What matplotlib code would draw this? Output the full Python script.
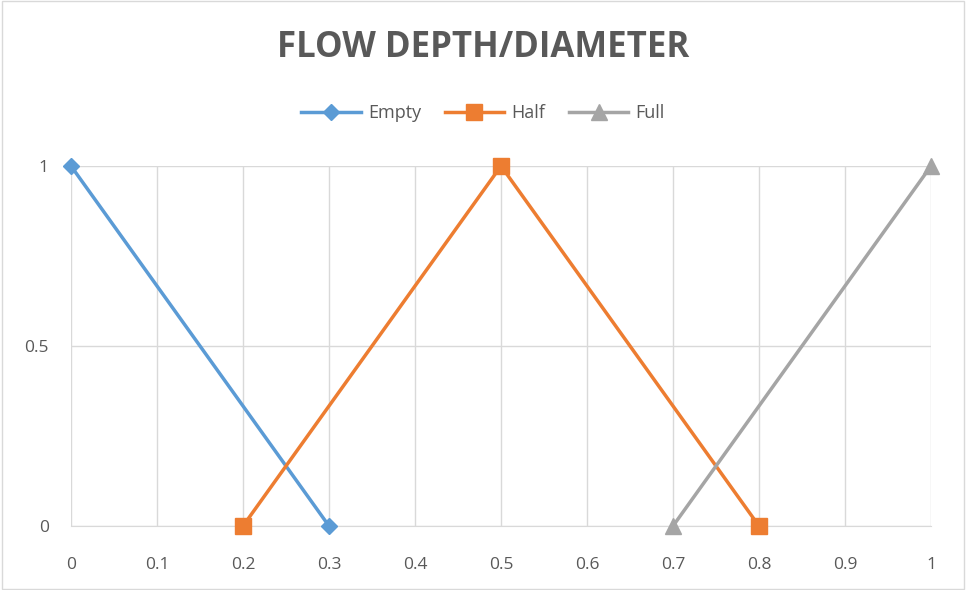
import matplotlib
matplotlib.use("Agg")
import matplotlib.pyplot as plt
from matplotlib.patches import Rectangle

empty_x = [0, 0.3]
empty_y = [1, 0]
half_x = [0.2, 0.5, 0.8]
half_y = [0, 1, 0]
full_x = [0.7, 1]
full_y = [0, 1]
x_ticks = [0, 0.1, 0.2, 0.3, 0.4, 0.5, 0.6, 0.7, 0.8, 0.9, 1]
x_labels = ["0", "0.1", "0.2", "0.3", "0.4", "0.5", "0.6", "0.7", "0.8", "0.9", "1"]
y_ticks = [0, 0.5, 1]
y_labels = ["0", "0.5", "1"]

plt.rcParams['font.family'] = ['Open Sans', 'DejaVu Sans']

fig = plt.figure(figsize=(9.66, 5.9), dpi=100)
fig.patches.append(Rectangle((0.002, 0.002), 0.996, 0.996, transform=fig.transFigure,
                             fill=False, edgecolor='#d9d9d9', linewidth=1))
ax = fig.add_axes([71/966, 1-526/590, 860/966, 360/590])

ax.plot(empty_x, empty_y, color='#5B9BD5', lw=2.5, marker='D', ms=8, label='Empty', clip_on=False, zorder=3)
ax.plot(half_x, half_y, color='#ED7D31', lw=2.5, marker='s', ms=11, label='Half', clip_on=False, zorder=3)
ax.plot(full_x, full_y, color='#A5A5A5', lw=2.5, marker='^', ms=11, label='Full', clip_on=False, zorder=3)

ax.set_xlim(0, 1)
ax.set_ylim(0, 1)
ax.set_xticks(x_ticks)
ax.set_xticklabels(x_labels)
ax.set_yticks(y_ticks)
ax.set_yticklabels(y_labels)
ax.grid(True, color='#d9d9d9', lw=1)
ax.set_axisbelow(True)
for s in ['top', 'right', 'left']:
    ax.spines[s].set_visible(False)
ax.spines['bottom'].set_color('#d9d9d9')
ax.tick_params(length=0, labelsize=12.5, colors='#595959')
ax.tick_params(axis='x', pad=22)
ax.tick_params(axis='y', pad=16)

fig.text(0.5, 1-48/590, "FLOW DEPTH/DIAMETER",
         ha='center', va='center', fontsize=25, fontweight='bold', color='#595959')

leg = fig.legend(loc='center', bbox_to_anchor=(0.5, 1-113/590), ncol=3, frameon=False,
                 fontsize=13, handlelength=3.3, columnspacing=1.3, handletextpad=0.4)
for t in leg.get_texts():
    t.set_color('#595959')

fig.savefig('out.png', dpi=100)
